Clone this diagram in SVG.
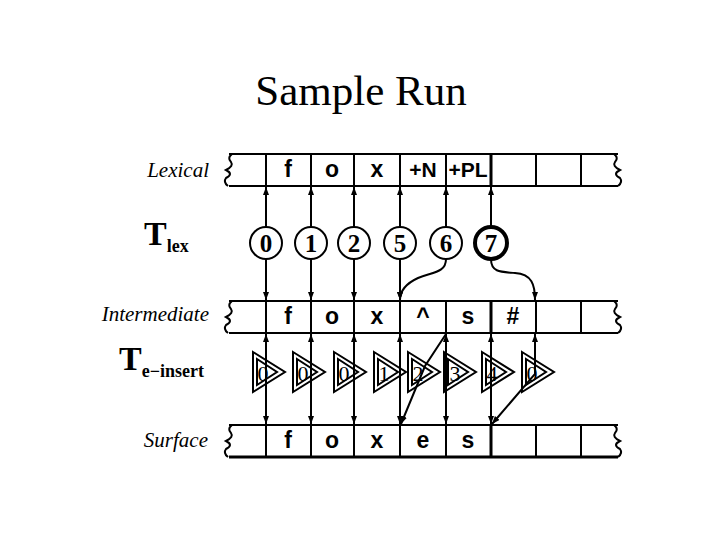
<svg xmlns="http://www.w3.org/2000/svg" width="720" height="540" viewBox="0 0 720 540">
<style>
.tape{fill:none;stroke:#000;stroke-width:2}
.cell{font-family:"Liberation Sans",Arial,sans-serif;font-weight:bold;font-size:23px;text-anchor:middle}
.lab{font-family:"Liberation Serif","Times New Roman",serif;font-style:italic;font-size:21px;text-anchor:end}
.big{font-family:"Liberation Serif","Times New Roman",serif;font-weight:bold}
.circ{fill:#fff;stroke:#000;stroke-width:2}
.cnum{font-family:"Liberation Serif","Times New Roman",serif;font-weight:bold;font-size:25px;text-anchor:middle}
.tri{fill:none;stroke:#000;stroke-width:2}
.tnum{font-family:"Liberation Serif","Times New Roman",serif;font-size:22px;text-anchor:middle}
.con{fill:none;stroke:#000;stroke-width:2}
</style>
<defs>
<marker id="ah" viewBox="0 0 8 6" refX="8" refY="3" markerWidth="8" markerHeight="6" markerUnits="userSpaceOnUse" orient="auto-start-reverse">
<path d="M0,0 L8,3 L0,6 z" fill="#000"/>
</marker>
<path id="wl" d="M0,0 q-5,4 -1,8 q3,4 -5,8 q8,4 0,8 q-3,4 2,8"/>
</defs>
<rect width="720" height="540" fill="#fff"/>
<text x="361" y="105" font-family="'Liberation Serif','Times New Roman',serif" font-size="43" text-anchor="middle">Sample Run</text>

<g id="labels">
<text class="lab" x="209" y="177">Lexical</text>
<text class="lab" x="209" y="321">Intermediate</text>
<text class="lab" x="208" y="447">Surface</text>
<text class="big" x="144" y="245" font-size="34">T<tspan font-size="18" dy="7">lex</tspan></text>
<text class="big" x="119" y="370" font-size="34">T<tspan font-size="18" dy="7">e−insert</tspan></text>
</g>

<g id="tape-lexical">
<path class="tape" d="M229,154 H618 M229,186 H618 M266,154 V186 M311,154 V186 M354,154 V186 M400,154 V186 M446,154 V186 M536,154 V186 M581,154 V186"/>
<path d="M491,154 V186" stroke="#000" stroke-width="3"/>
<use href="#wl" x="232" y="154" class="tape"/>
<use href="#wl" transform="translate(614,154) scale(-1,1)" class="tape"/>
<text class="cell" x="288" y="177">f</text>
<text class="cell" x="332" y="177">o</text>
<text class="cell" x="377" y="177">x</text>
<text class="cell" x="423" y="177" style="font-size:21px">+N</text>
<text class="cell" x="468" y="177" style="font-size:21px">+PL</text>
</g>

<g id="tape-intermediate">
<path class="tape" d="M229,301 H618 M229,333 H618 M266,301 V333 M311,301 V333 M354,301 V333 M400,301 V333 M446,301 V333 M536,301 V333 M581,301 V333"/>
<path d="M491,301 V333" stroke="#000" stroke-width="3"/>
<use href="#wl" x="232" y="301" class="tape"/>
<use href="#wl" transform="translate(614,301) scale(-1,1)" class="tape"/>
<text class="cell" x="288" y="324">f</text>
<text class="cell" x="332" y="324">o</text>
<text class="cell" x="377" y="324">x</text>
<text class="cell" x="423" y="324">^</text>
<text class="cell" x="468" y="324">s</text>
<text class="cell" x="513" y="324">#</text>
</g>

<g id="tape-surface">
<path class="tape" d="M229,425 H618 M266,425 V457 M311,425 V457 M354,425 V457 M400,425 V457 M446,425 V457 M536,425 V457 M581,425 V457"/>
<path d="M229,457 H618" stroke="#000" stroke-width="3"/>
<path d="M491,425 V457" stroke="#000" stroke-width="3"/>
<use href="#wl" x="232" y="425" class="tape"/>
<use href="#wl" transform="translate(614,425) scale(-1,1)" class="tape"/>
<text class="cell" x="288" y="448">f</text>
<text class="cell" x="332" y="448">o</text>
<text class="cell" x="377" y="448">x</text>
<text class="cell" x="423" y="448">e</text>
<text class="cell" x="468" y="448">s</text>
</g>

<g id="connectors">
<path class="con" d="M266,227 V187" marker-end="url(#ah)"/>
<path class="con" d="M311,227 V187" marker-end="url(#ah)"/>
<path class="con" d="M354,227 V187" marker-end="url(#ah)"/>
<path class="con" d="M400,227 V187" marker-end="url(#ah)"/>
<path class="con" d="M446,227 V187" marker-end="url(#ah)"/>
<path class="con" d="M491,227 V187" marker-end="url(#ah)"/>
<path class="con" d="M266,259 V300" marker-end="url(#ah)"/>
<path class="con" d="M311,259 V300" marker-end="url(#ah)"/>
<path class="con" d="M354,259 V300" marker-end="url(#ah)"/>
<path class="con" d="M400,259 V300" marker-end="url(#ah)"/>
<path class="con" d="M446,259 C446,273 432,272 418,278 C405,284 400,292 400,300" marker-end="url(#ah)"/>
<path class="con" d="M491,259 C491,272 500,272 515,273 C532,274 535,285 535,300" marker-end="url(#ah)"/>
<path class="con" d="M266,334 V424" marker-start="url(#ah)" marker-end="url(#ah)"/>
<path class="con" d="M311,334 V424" marker-start="url(#ah)" marker-end="url(#ah)"/>
<path class="con" d="M354,334 V424" marker-start="url(#ah)" marker-end="url(#ah)"/>
<path class="con" d="M400,334 V424" marker-start="url(#ah)" marker-end="url(#ah)"/>
<path class="con" d="M446,334 V424" marker-start="url(#ah)" marker-end="url(#ah)"/>
<path class="con" d="M491,334 V424" marker-start="url(#ah)" marker-end="url(#ah)"/>
<path class="con" d="M446,334 L425,366 L401,424" marker-end="url(#ah)"/>
<path class="con" d="M535,334 L535,374 L492,424" marker-start="url(#ah)" marker-end="url(#ah)"/>
</g>

<g id="circles">
<g id="c0"><circle class="circ" cx="266" cy="243" r="16"/><text class="cnum" x="266" y="252">0</text></g>
<g id="c1"><circle class="circ" cx="311" cy="243" r="16"/><text class="cnum" x="311" y="252">1</text></g>
<g id="c2"><circle class="circ" cx="354" cy="243" r="16"/><text class="cnum" x="354" y="252">2</text></g>
<g id="c5"><circle class="circ" cx="400" cy="243" r="16"/><text class="cnum" x="400" y="252">5</text></g>
<g id="c6"><circle class="circ" cx="446" cy="243" r="16"/><text class="cnum" x="446" y="252">6</text></g>
<g id="c7"><circle class="circ" cx="491" cy="243" r="16" style="stroke-width:4"/><text class="cnum" x="491" y="252">7</text></g>
</g>

<g id="triangles">
<g id="t1"><path class="tri" d="M253,352 L285,372 L253,392 Z M257,359 L277,372 L257,385 Z"/><text class="tnum" x="263" y="381">0</text></g>
<g id="t2"><path class="tri" d="M293,352 L325,372 L293,392 Z M297,359 L317,372 L297,385 Z"/><text class="tnum" x="303" y="381">0</text></g>
<g id="t3"><path class="tri" d="M334,352 L366,372 L334,392 Z M338,359 L358,372 L338,385 Z"/><text class="tnum" x="344" y="381">0</text></g>
<g id="t4"><path class="tri" d="M374,352 L406,372 L374,392 Z M378,359 L398,372 L378,385 Z"/><text class="tnum" x="384" y="381">1</text></g>
<g id="t5"><path class="tri" d="M408,352 L440,372 L408,392 Z M412,359 L432,372 L412,385 Z"/><text class="tnum" x="418" y="381">2</text></g>
<g id="t6"><path class="tri" d="M444,352 L476,372 L444,392 Z M448,359 L468,372 L448,385 Z"/><path d="M445,352 V392" stroke="#000" stroke-width="3"/><text class="tnum" x="455" y="381">3</text></g>
<g id="t7"><path class="tri" d="M482,352 L514,372 L482,392 Z M486,359 L506,372 L486,385 Z"/><text class="tnum" x="492" y="381">4</text></g>
<g id="t8"><path class="tri" d="M522,352 L554,372 L522,392 Z M526,359 L546,372 L526,385 Z"/><text class="tnum" x="532" y="381">0</text></g>
</g>
</svg>
